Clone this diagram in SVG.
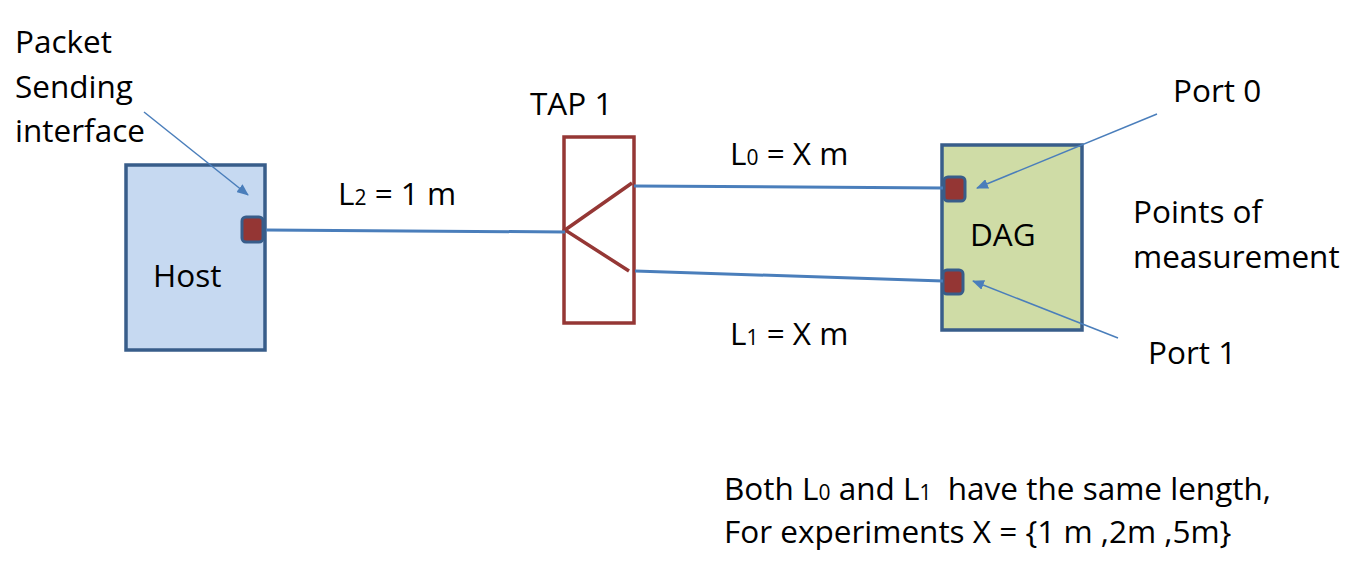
<svg xmlns="http://www.w3.org/2000/svg" width="1360" height="580" viewBox="0 0 1360 580">
<style>
text{font-family:"Open Sans","Noto Sans",sans-serif;font-size:31.5px;fill:#000;white-space:pre}
.sub{font-size:21px}
.box{stroke:#385D8A;stroke-width:3.5}
.port{fill:#943634;stroke:#385D8A;stroke-width:3}
.tap{fill:none;stroke:#953735;stroke-width:3.5}
.link{stroke:#4A7EBB;stroke-width:3;fill:none}
.ptr{stroke:#4A7EBB;stroke-width:1.5;fill:none;marker-end:url(#ah)}
</style>
<defs>
<marker id="ah" viewBox="0 0 12 10" refX="11" refY="5" markerWidth="12" markerHeight="10" markerUnits="userSpaceOnUse" orient="auto">
<path d="M0,0 L12,5 L0,10 Z" fill="#4A7EBB"/>
</marker>
</defs>
<rect width="1360" height="580" fill="#fff"/>
<g id="host">
<rect class="box" x="126" y="165" width="139" height="185" fill="#C6D9F1"/>
<rect class="port" x="242" y="217" width="21" height="25" rx="4"/>
<text x="153" y="287">Host</text>
</g>
<g id="tap">
<rect class="tap" x="564" y="137" width="70" height="186"/>
<polyline class="tap" points="632,183 565,230 629,271"/>
<text x="530" y="115">TAP 1</text>
</g>
<g id="dag">
<rect class="box" x="942" y="145" width="140" height="185" fill="#CFDCA6"/>
<rect class="port" x="944" y="177" width="21" height="24" rx="4"/>
<rect class="port" x="943" y="270" width="20" height="24" rx="4"/>
<text x="970" y="246">DAG</text>
</g>
<g id="connectors">
<line class="link" x1="266" y1="230" x2="565" y2="232"/>
<line class="link" x1="634" y1="186" x2="943" y2="188"/>
<line class="link" x1="635" y1="271" x2="943" y2="281"/>
<line class="ptr" x1="144" y1="112" x2="248" y2="195"/>
<line class="ptr" x1="1157" y1="114" x2="977" y2="188"/>
<line class="ptr" x1="1118" y1="338" x2="973" y2="281"/>
</g>
<g id="labels">
<text x="15" y="53">Packet</text>
<text x="15" y="98">Sending</text>
<text x="15" y="142">interface</text>
<text x="338" y="205">L<tspan class="sub">2</tspan> = 1 m</text>
<text x="730" y="165">L<tspan class="sub">0</tspan> = X m</text>
<text x="730" y="345">L<tspan class="sub">1</tspan> = X m</text>
<text x="1173" y="102">Port 0</text>
<text x="1133" y="223">Points of</text>
<text x="1133" y="268">measurement</text>
<text x="1148" y="364">Port 1</text>
<text x="724" y="500" xml:space="preserve">Both L<tspan class="sub">0</tspan> and L<tspan class="sub">1</tspan>  have the same length,</text>
<text x="724" y="543">For experiments X = {1 m ,2m ,5m}</text>
</g>
</svg>
